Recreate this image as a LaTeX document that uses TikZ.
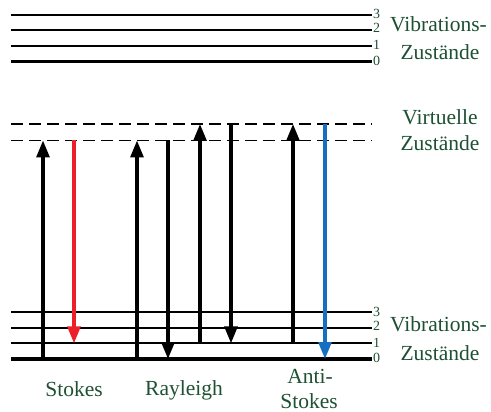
\documentclass[tikz,border=0pt]{standalone}
\usepackage{fontspec}
\setmainfont{Liberation Serif}
\usetikzlibrary{arrows.meta}
\definecolor{txtgreen}{RGB}{30,80,50}
\definecolor{stokesred}{RGB}{235,32,40}
\definecolor{antiblue}{RGB}{24,110,192}

\begin{document}
\begin{tikzpicture}[x=1pt,y=-1pt,
  level/.style={line width=1.7pt},
  ground/.style={line width=3.4pt},
  virt/.style={line width=1.5pt, dash pattern=on 12pt off 6pt},
  trans/.style={line width=3.1pt, -{Triangle[length=17pt,width=13pt]}},
  qnum/.style={font=\fontsize{14}{14}\selectfont, text=txtgreen, inner sep=0pt, anchor=west},
  lbl/.style={font=\fontsize{21.5}{22}\selectfont, text=txtgreen, inner sep=0pt, anchor=base}
]
\useasboundingbox (0,0) rectangle (491,412);

% upper set of vibrational levels
\foreach \n/\y in {3/14.7,2/30.3,1/46} \draw[level] (11,\y) -- (372,\y);
\draw[ground] (11,61.3) -- (372,61.3);
\node[qnum] (ut3) at (373,14) {3};
\node[qnum] (ut2) at (373,28) {2};
\node[qnum] (ut1) at (373,44.5) {1};
\node[qnum] (ut0) at (373,60.5) {0};
\node[lbl] (uv1) at (438.5,31.7) {Vibrations-};
\node[lbl] (uv2) at (440,60) {Zustände};

% virtual levels
\draw[virt] (11,124) -- (372,124);
\draw[virt] (11,140.5) -- (372,140.5);
\node[lbl] (vv1) at (440,125) {Virtuelle};
\node[lbl] (vv2) at (440,150) {Zustände};

% lower set of vibrational levels
\foreach \n/\y in {3/312.3,2/327.7,1/343.3} \draw[level] (11,\y) -- (372,\y);
\draw[ground] (11,359) -- (372,359);
\node[qnum] (lt3) at (373,311.5) {3};
\node[qnum] (lt2) at (373,325.5) {2};
\node[qnum] (lt1) at (373,342.5) {1};
\node[qnum] (lt0) at (373,358) {0};
\node[lbl] (lv1) at (438.5,331.7) {Vibrations-};
\node[lbl] (lv2) at (440,360) {Zustände};

% end points of the transitions
\coordinate (s1a) at (43,359);   \coordinate (s1b) at (43,140.5);
\coordinate (s2a) at (74,140.5); \coordinate (s2b) at (74,343.3);
\coordinate (r1a) at (137,359);  \coordinate (r1b) at (137,140.5);
\coordinate (r2a) at (168,140.5);\coordinate (r2b) at (168,359);
\coordinate (r3a) at (200,343.3);\coordinate (r3b) at (200,124);
\coordinate (r4a) at (231,124);  \coordinate (r4b) at (231,343.3);
\coordinate (a1a) at (293,343.3);\coordinate (a1b) at (293,124);
\coordinate (a2a) at (325,124);  \coordinate (a2b) at (325,359);

% Stokes
\draw[trans] (s1a) -- (s1b);
\draw[trans, stokesred] (s2a) -- (s2b);
% Rayleigh
\draw[trans] (r1a) -- (r1b);
\draw[trans] (r2a) -- (r2b);
\draw[trans] (r3a) -- (r3b);
\draw[trans] (r4a) -- (r4b);
% Anti-Stokes
\draw[trans] (a1a) -- (a1b);
\draw[trans, antiblue] (a2a) -- (a2b);

% process names
\node[lbl] (ls) at (74,396.5) {Stokes};
\node[lbl] (lr) at (184,395) {Rayleigh};
\node[lbl] (la1) at (310,383) {Anti-};
\node[lbl] (la2) at (309,408) {Stokes};
\end{tikzpicture}
\end{document}
